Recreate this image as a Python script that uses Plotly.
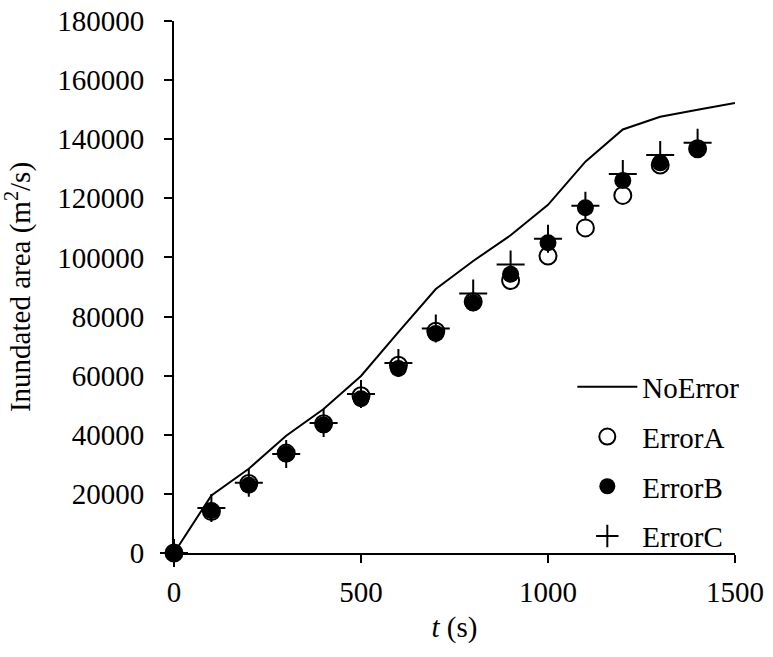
import plotly.graph_objects as go

t_line = [0, 100, 200, 300, 400, 500, 600, 700, 800, 900, 1000, 1100, 1200, 1300, 1400, 1500]
no_error = [0, 19500, 28500, 39700, 48700, 59900, 74700, 89300, 98800, 107500, 117800, 132400, 143300, 147600, 150000, 152300]

t_pts = [0, 100, 200, 300, 400, 500, 600, 700, 800, 900, 1000, 1100, 1200, 1300, 1400]
error_a = [0, 14000, 23500, 33800, 43700, 53200, 63500, 75000, 85000, 92200, 100500, 110000, 121000, 131300, 136800]
error_b = [0, 14300, 22900, 33500, 43300, 52200, 62400, 74300, 84600, 94300, 105000, 116800, 126000, 132000, 136600]
error_c = [0, 15200, 23800, 33500, 44000, 53800, 64300, 76000, 87800, 97600, 106300, 117500, 128200, 134700, 138800]

x_ticks = [0, 500, 1000, 1500]
y_ticks = [0, 20000, 40000, 60000, 80000, 100000, 120000, 140000, 160000, 180000]

FONT = "Liberation Serif"
FS = 29

fig = go.Figure()
fig.add_trace(go.Scatter(x=t_line, y=no_error, mode="lines", name="NoError",
                         line=dict(color="black", width=2), legendgroup="a", cliponaxis=False))
fig.add_trace(go.Scatter(x=t_pts, y=error_a, mode="markers", name="ErrorA", legendgroup="b",
                         marker=dict(symbol="circle-open", size=17, color="black", line=dict(width=2)),
                         cliponaxis=False))
fig.add_trace(go.Scatter(x=t_pts, y=error_b, mode="markers", name="ErrorB", legendgroup="c",
                         marker=dict(symbol="circle", size=17, color="black"), cliponaxis=False))
fig.add_trace(go.Scatter(x=t_pts, y=error_c, mode="markers", name="ErrorC", legendgroup="d",
                         marker=dict(symbol="cross-thin", size=20, color="black", line=dict(width=2, color="black")),
                         cliponaxis=False))

fig.update_layout(
    width=773, height=657,
    margin=dict(l=174, r=38, t=21, b=104, autoexpand=False),
    paper_bgcolor="white", plot_bgcolor="white",
    font=dict(family=FONT, size=FS, color="black"),
    showlegend=True,
    legend=dict(x=0.71, y=0.36, xanchor="left", yanchor="top", bgcolor="rgba(0,0,0,0)",
                font=dict(family=FONT, size=FS), tracegroupgap=9, itemwidth=60),
    xaxis=dict(range=[0, 1500], tickvals=x_ticks, ticks="outside", ticklen=8, tickwidth=2,
               tickcolor="black", showline=True, linecolor="black", linewidth=2,
               showgrid=False, zeroline=False, ticklabelstandoff=4, automargin=False,
               tickfont=dict(family=FONT, size=FS),
               title=dict(text="<i>t</i> (s)", standoff=10, font=dict(family=FONT, size=FS))),
    yaxis=dict(range=[0, 180000], tickvals=y_ticks, ticks="outside", ticklen=8, tickwidth=2,
               tickcolor="black", showline=True, linecolor="black", linewidth=2,
               showgrid=False, zeroline=False, ticklabelstandoff=14, tickformat="d", automargin=False,
               tickfont=dict(family=FONT, size=FS),
               title=dict(text="Inundated area (m<sup>2</sup>/s)", standoff=18,
                          font=dict(family=FONT, size=FS))),
)

fig.write_html("out.html")
